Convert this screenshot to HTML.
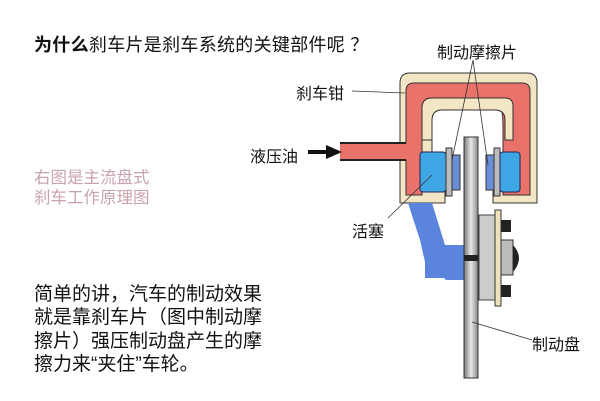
<!DOCTYPE html>
<html><head><meta charset="utf-8"><style>
body{margin:0;width:600px;height:401px;background:#fff;overflow:hidden;position:relative;font-family:"Liberation Sans","Noto Sans CJK SC",sans-serif;}
.t{position:absolute;white-space:nowrap;color:#111;}
</style></head><body>
<svg width="600" height="401" style="position:absolute;left:0;top:0">
<path d="M410,73 H527 Q537,73 537,83 V203 H493 V190 H505 V120 Q505,110 495,110 H442 Q432,110 432,120 V190 H445 V203 H400 V83 Q400,73 410,73 Z" fill="#f3e6c4" stroke="#333" stroke-width="1"/>
<path d="M414,83 H522 Q530,83 530,91 V195 H503 V128 Q503,98 493,98 H432 Q422,98 422,108 V195 H406 V91 Q406,83 414,83 Z" fill="#e9736a" stroke="#333" stroke-width="1"/>
<path d="M432,98 H505 Q513,98 513,106 V140 H505 V120 Q505,110 495,110 H442 Q432,110 432,120 V140 H422 V108 Q422,98 432,98 Z" fill="#f3e6c4" stroke="#333" stroke-width="1"/>
<rect x="340" y="143" width="67" height="17" fill="#e9736a"/>
<line x1="340" y1="143" x2="406" y2="143" stroke="#222" stroke-width="2"/>
<line x1="340" y1="160" x2="406" y2="160" stroke="#222" stroke-width="2"/>
<path d="M408,203 H432 L445,245 H465 V280 H446 L444,278 H425 V262 L420,240 Z" fill="#5b84dd"/>
<rect x="420" y="152" width="26" height="40" rx="3" fill="#3fa6e6" stroke="#225" stroke-width="1"/>
<rect x="446" y="148" width="6" height="48" fill="#bbb" stroke="#333"/>
<rect x="452" y="155" width="8" height="35" fill="#6a8fd8" stroke="#333"/>
<rect x="486" y="155" width="8" height="35" fill="#6a8fd8" stroke="#333"/>
<rect x="494" y="148" width="6" height="48" fill="#bbb" stroke="#333"/>
<rect x="500" y="152" width="20" height="40" rx="3" fill="#3fa6e6" stroke="#225" stroke-width="1"/>
<rect x="479" y="215" width="18" height="85" fill="#ccc" stroke="#444"/>
<rect x="495" y="210" width="6" height="96" fill="#eee2bc" stroke="#333"/>
<rect x="501" y="220" width="10" height="12" fill="#222"/>
<rect x="501" y="285" width="10" height="12" fill="#222"/>
<rect x="501" y="240" width="12" height="35" fill="#bbb" stroke="#333"/>
<path d="M513,245 Q525,258 513,272 Z" fill="#222"/>
<defs><linearGradient id="g" x1="0" x2="1"><stop offset="0" stop-color="#777"/><stop offset=".5" stop-color="#e8e8e8"/><stop offset="1" stop-color="#888"/></linearGradient></defs>
<rect x="464" y="137" width="14" height="241" fill="url(#g)" stroke="#333"/>
<rect x="464" y="255" width="14" height="6" fill="#222"/>
<line x1="308" y1="152" x2="330" y2="152" stroke="#111" stroke-width="4"/>
<polygon points="326,145 342,152 326,159" fill="#111"/>
<g stroke="#333" stroke-width="0.8" fill="none">
<line x1="473" y1="60" x2="452" y2="160"/>
<line x1="473" y1="60" x2="488" y2="165"/>
<line x1="352" y1="91" x2="405" y2="93"/>
<line x1="388" y1="218" x2="432" y2="175"/>
<line x1="472" y1="322" x2="532" y2="340"/>
</g>
</svg>
<div class="t" style="left:34px;top:31px;font-size:18px;letter-spacing:0.3px;"><b>为什么</b>刹车片是刹车系统的关键部件呢 ？</div>
<div class="t" style="left:437px;top:39px;font-size:16px;">制动摩擦片</div>
<div class="t" style="left:296px;top:80px;font-size:16px;">刹车钳</div>
<div class="t" style="left:250px;top:143px;font-size:16px;">液压油</div>
<div class="t" style="left:352px;top:218px;font-size:16px;">活塞</div>
<div class="t" style="left:532px;top:331px;font-size:16px;">制动盘</div>
<div class="t" style="left:34px;top:168px;font-size:16.5px;line-height:20px;color:#c9a3ab;">右图是主流盘式<br>刹车工作原理图</div>
<div class="t" style="left:34px;top:283px;font-size:19px;line-height:23.3px;">简单的讲，汽车的制动效果<br>就是靠刹车片（图中制动摩<br>擦片）强压制动盘产生的摩<br>擦力来“夹住”车轮。</div>
</body></html>
